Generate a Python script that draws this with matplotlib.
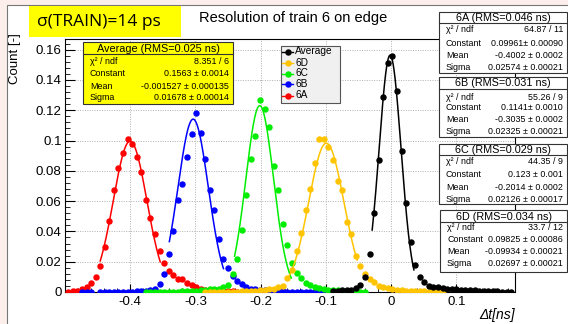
import numpy as np
import matplotlib
matplotlib.use("Agg")
import matplotlib.pyplot as plt
from matplotlib.patches import Rectangle
from matplotlib.lines import Line2D

# ---------------- data ----------------
BIN_LO = -0.4985      # histogram lower edge
BIN_W = 0.007         # bin width (ns)

series = ["6A", "6B", "6C", "6D", "Average"]
colors = {"6A": "#ff0000", "6B": "#0000ff", "6C": "#00ee00",
          "6D": "#ffc400", "Average": "#000000"}
first_bin = {"6A": 0, "6B": 3, "6C": 17, "6D": 30, "Average": 58}
counts = {
    "6A": [0.0003, 0.0004, 0.0008, 0.0018, 0.003, 0.006, 0.0097, 0.0174, 0.030,
           0.047, 0.067, 0.082, 0.092, 0.101, 0.098, 0.089, 0.079, 0.061, 0.049,
           0.038, 0.027, 0.019, 0.014, 0.011, 0.0086, 0.0086, 0.006, 0.0044,
           0.003, 0.0022, 0.0015, 0.0012, 0.001, 0.0008, 0.0006, 0.0005, 0.0004,
           0.0003, 0.0003, 0.0002, 0.0002, 0.0001, 0.0001, 0.0001, 0.0001],
    "6B": [0.0001, 0.0001, 0.0001, np.nan, 0.0001, 0.0001, 0.0001, 0.0001,
           0.0002, 0.0002, 0.0003, 0.0003, 0.0004, 0.0005, 0.0007, 0.001, 0.002,
           0.005, 0.012, 0.025, 0.040, 0.061, 0.071, 0.089, 0.104, 0.118, 0.105,
           0.088, 0.067, 0.054, 0.035, 0.022, 0.0156, 0.0106, 0.0073, 0.005,
           0.0035, 0.0022, 0.0018, 0.0013, 0.001, 0.0008, 0.0006, 0.0005, 0.0004,
           0.0003, 0.0003, 0.0002, 0.0002, 0.0001, 0.0001, 0.0001, 0.0001, 0.0001],
    "6C": [0.0001, 0.0001, 0.0001, 0.0002, 0.0002, 0.0002, 0.0003, 0.0003,
           0.0004, 0.0005, 0.0006, 0.0008, 0.001, 0.0013, 0.0017, 0.0022, 0.002,
           0.003, 0.0045, 0.0117, 0.022, 0.041, 0.064, 0.088, 0.103, 0.127, 0.121,
           0.109, 0.083, 0.067, 0.045, 0.031, 0.019, 0.0123, 0.009, 0.006, 0.0046,
           0.0035, 0.0029, 0.0018, 0.0013, 0.0012, 0.001, 0.0008, 0.0007, 0.0005,
           0.0004, 0.0003, 0.0003],
    "6D": [0.0001, 0.0001, 0.0001, 0.0001, 0.0002, 0.0002, 0.0003, 0.0003,
           0.0004, 0.0005, 0.0006, 0.0008, 0.001, 0.0013, 0.0017, 0.0022, 0.003,
           0.004, 0.009, 0.0145, 0.027, 0.039, 0.054, 0.068, 0.085, 0.101, 0.101,
           0.096, 0.087, 0.073, 0.067, 0.046, 0.038, 0.024, 0.0174, 0.0117, 0.0084,
           0.0064, 0.0042, 0.003, 0.0024, 0.0018, 0.0013, 0.001, 0.0008, 0.0007,
           0.0006, 0.0005, 0.0004, 0.0003, 0.0003, 0.0002, 0.0002],
    "Average": [0.0006, 0.0008, 0.001, 0.0012, 0.0015, 0.0024, 0.0046, 0.0101,
                0.0249, 0.052, 0.087, 0.129, 0.151, 0.156, 0.133, 0.093, 0.0585,
                0.033, 0.0178, 0.0097, 0.0068, 0.004, 0.0035, 0.003, 0.0026,
                0.0022, 0.002, 0.0018, 0.0015, 0.0013, 0.0011, 0.001, 0.0008,
                0.0007, 0.0006, 0.0005, 0.0004, 0.0003, 0.0003, 0.0002],
}

# Gaussian fit results (Constant, Mean, Sigma) and fit ranges
fit_const = {"6A": 0.09961, "6B": 0.1141, "6C": 0.123, "6D": 0.09825, "Average": 0.1563}
fit_mean = {"6A": -0.4002, "6B": -0.3035, "6C": -0.2014, "6D": -0.09934, "Average": -0.001527}
fit_sigma = {"6A": 0.02574, "6B": 0.02325, "6C": 0.02126, "6D": 0.02697, "Average": 0.01678}
fit_lo = {"6A": -0.446, "6B": -0.340, "6C": -0.240, "6D": -0.157, "Average": -0.029}
fit_hi = {"6A": -0.354, "6B": -0.257, "6C": -0.153, "6D": -0.052, "Average": 0.035}

stat_title = {"Average": "Average (RMS=0.025 ns)", "6A": "6A (RMS=0.046 ns)",
              "6B": "6B (RMS=0.031 ns)", "6C": "6C (RMS=0.029 ns)",
              "6D": "6D (RMS=0.034 ns)"}
stat_labels = ["\u03c7\u00b2 / ndf", "Constant", "Mean", "Sigma"]
stat_values = {
    "Average": ["8.351 / 6", "0.1563 \u00b1 0.0014", "-0.001527 \u00b1 0.000135", "0.01678 \u00b1 0.00014"],
    "6A": ["64.87 / 11", "0.09961\u00b1 0.00090", "-0.4002 \u00b1 0.0002", "0.02574 \u00b1 0.00021"],
    "6B": ["55.26 / 9", "0.1141\u00b1 0.0010", "-0.3035 \u00b1 0.0002", "0.02325 \u00b1 0.00021"],
    "6C": ["44.35 / 9", "0.123 \u00b1 0.001", "-0.2014 \u00b1 0.0002", "0.02126 \u00b1 0.00017"],
    "6D": ["33.7 / 12", "0.09825 \u00b1 0.00086", "-0.09934 \u00b1 0.00021", "0.02697 \u00b1 0.00021"],
}
legend_order = ["Average", "6D", "6C", "6B", "6A"]

x_ticks = [-0.4, -0.3, -0.2, -0.1, 0.0, 0.1]
x_ticklabels = ["-0.4", "-0.3", "-0.2", "-0.1", "0", "0.1"]
y_ticks = [0, 0.02, 0.04, 0.06, 0.08, 0.10, 0.12, 0.14, 0.16]
y_ticklabels = ["0", "0.02", "0.04", "0.06", "0.08", "0.1", "0.12", "0.14", "0.16"]

title = "Resolution of train 6 on edge"
banner = "\u03c3(TRAIN)=14 ps"
y_label = "Count [-]"
x_label = "\u0394t[ns]"

# ---------------- layout ----------------
W, H = 568, 324
FONT = "Liberation Sans"
plt.rcParams["font.family"] = [FONT, "DejaVu Sans"]

fig = plt.figure(figsize=(W / 100, H / 100), dpi=100)
fig.patch.set_facecolor("#fcefeb")


def fx(px):
    return px / W


def fy(py):
    return 1 - py / H


# white canvas
fig.patches.append(Rectangle((fx(7), fy(330)), fx(570) - fx(7), fy(5) - fy(330),
                             transform=fig.transFigure, facecolor="white",
                             edgecolor="#777777", lw=0.8, zorder=-10))

L, R, T, B = 65, 515, 39, 292
ax = fig.add_axes([fx(L), fy(B), fx(R) - fx(L), fy(T) - fy(B)])
ax.set_facecolor("white")
ax.set_xlim(-0.5, 0.19)
ax.set_ylim(0, 0.167)

MS = 3.6
for s in series:
    y = np.array(counts[s], dtype=float)
    x = BIN_LO + BIN_W * (first_bin[s] + np.arange(len(y)) + 0.5)
    ax.plot(x, y, "o", ms=MS, color=colors[s], mec=colors[s], zorder=3)
    xx = np.linspace(fit_lo[s], fit_hi[s], 200)
    ax.plot(xx, fit_const[s] * np.exp(-0.5 * ((xx - fit_mean[s]) / fit_sigma[s]) ** 2),
            color=colors[s], lw=1.1, zorder=4)

ax.set_xticks(x_ticks)
ax.set_xticklabels(x_ticklabels)
ax.set_yticks(y_ticks)
ax.set_yticklabels(y_ticklabels)
ax.set_xticks(np.arange(-0.5, 0.19, 0.02), minor=True)
ax.set_yticks(np.arange(0, 0.167, 0.004), minor=True)
ax.tick_params(axis="both", which="both", direction="in", colors="black",
               labelsize=9.5, top=False, right=False)
ax.tick_params(axis="y", which="major", length=7, width=0.8, pad=2.5)
ax.tick_params(axis="y", which="minor", length=3.5, width=0.6)
ax.tick_params(axis="x", which="major", length=5.5, width=0.8, pad=3)
ax.tick_params(axis="x", which="minor", length=2.8, width=0.6)
ax.grid(True, which="major", color="#b0b0b0", lw=0.7, ls=(0, (1, 1.5)))
ax.set_axisbelow(True)
for sp in ax.spines.values():
    sp.set_linewidth(0.8)

# titles
fig.text(fx(293), fy(18), title, ha="center", va="center", fontsize=10.5)
fig.text(fx(15), fy(33), y_label, rotation=90, ha="center", va="top", fontsize=9.5)
fig.text(fx(515), fy(315), x_label, ha="right", va="center", fontsize=10, style="italic")

# banner
fig.patches.append(Rectangle((fx(29), fy(37)), fx(181) - fx(29), fy(6) - fy(37),
                             transform=fig.transFigure, facecolor="#ffff00",
                             edgecolor="none", zorder=5))
fig.text(fx(37), fy(22), banner, ha="left", va="center", fontsize=12.5,
         family=["Open Sans", "DejaVu Sans"], zorder=6)


def stat_box(name, x0, x1, y0, ysep, y1, rows_y, face):
    fig.patches.append(Rectangle((fx(x0), fy(y1)), fx(x1) - fx(x0), fy(y0) - fy(y1),
                                 transform=fig.transFigure, facecolor=face,
                                 edgecolor="#333333", lw=0.8, zorder=5))
    fig.lines.append(Line2D([fx(x0), fx(x1)], [fy(ysep), fy(ysep)],
                            transform=fig.transFigure, color="#333333", lw=0.8, zorder=6))
    fig.text(fx((x0 + x1) / 2), fy((y0 + ysep) / 2 + 0.5), stat_title[name],
             ha="center", va="center", fontsize=7.8, zorder=7)
    for lab, val, ry in zip(stat_labels, stat_values[name], rows_y):
        fig.text(fx(x0 + 7), fy(ry), lab, ha="left", va="center", fontsize=6.4, zorder=7)
        fig.text(fx(x1 - 4), fy(ry), val, ha="right", va="center", fontsize=6.4, zorder=7)


stat_box("Average", 83, 233, 42, 54, 104, [61, 73, 86, 98], "#ffff00")
stat_box("6A", 439, 567, 12, 23, 73, [30, 43, 55, 67], "white")
stat_box("6B", 439, 567, 77, 89, 137, [97, 108, 120, 132], "white")
stat_box("6C", 439, 567, 144, 155, 204, [162, 174, 187, 199], "white")
stat_box("6D", 440, 567, 210, 222, 272, [228, 240, 252, 264], "white")

# legend
fig.patches.append(Rectangle((fx(281), fy(103)), fx(340) - fx(281), fy(46) - fy(103),
                             transform=fig.transFigure, facecolor="#f0f0f0",
                             edgecolor="#555555", lw=0.8, zorder=5))
for i, s in enumerate(legend_order):
    yy = 51.5 + i * 11
    fig.lines.append(Line2D([fx(282), fx(293)], [fy(yy), fy(yy)], transform=fig.transFigure,
                            color=colors[s], lw=1.0, zorder=6))
    fig.lines.append(Line2D([fx(287.5)], [fy(yy)], transform=fig.transFigure,
                            color=colors[s], marker="o", ms=MS, lw=0, zorder=6))
    fig.text(fx(295), fy(yy), s, ha="left", va="center", fontsize=7.3, zorder=7)

fig.savefig("out.png", dpi=100, facecolor=fig.get_facecolor())
